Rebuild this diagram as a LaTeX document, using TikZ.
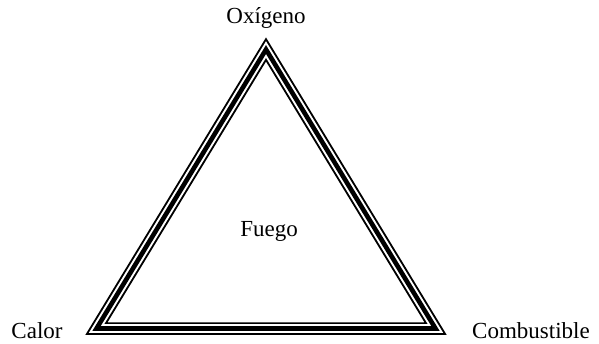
\documentclass[tikz,border=0pt]{standalone}
\usepackage{fontspec}
\setmainfont{Liberation Serif}
\usepackage{tikz}
\usetikzlibrary{calc}

\begin{document}
\begin{tikzpicture}[x=1pt,y=-1pt]
    % tamaño de letra y marco (en px de la imagen)
    \fontsize{23}{27}\selectfont
    \useasboundingbox (0,0) rectangle (599,343);

    % vértices del triángulo (línea central del borde)
    \coordinate (top) at (266,49.5);
    \coordinate (left) at (96.5,328.5);
    \coordinate (right) at (435.5,328.5);

    % borde triple: fino, hueco, grueso, hueco, fino
    \draw[line width=12.5pt,line join=miter] (top) -- (left) -- (right) -- cycle;
    \draw[line width=8.6pt,white,line join=miter] (top) -- (left) -- (right) -- cycle;
    \draw[line width=4.6pt,line join=miter] (top) -- (left) -- (right) -- cycle;

    % rótulos
    \node[anchor=base] (oxigeno) at (266,23) {Oxígeno};
    \node[anchor=base] (calor) at (37,338) {Calor};
    \node[anchor=base] (combustible) at (531,338) {Combustible};
    \node[anchor=base] (fuego) at (269,236) {Fuego};
\end{tikzpicture}
\end{document}
